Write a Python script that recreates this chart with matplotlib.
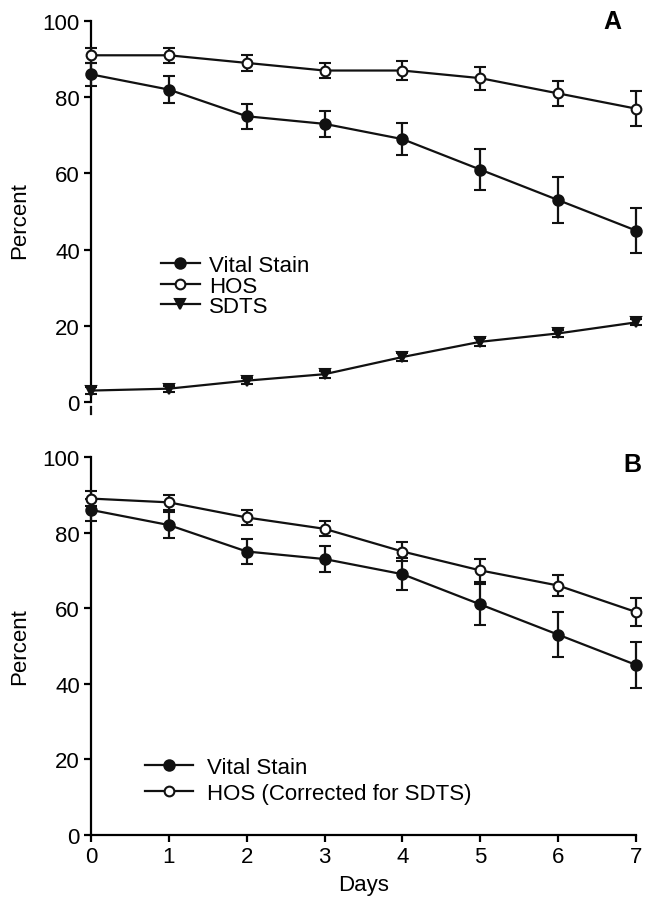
import matplotlib
matplotlib.use("Agg")
import matplotlib.pyplot as plt
from matplotlib.lines import Line2D

plt.rcParams['font.family'] = ['Liberation Sans', 'DejaVu Sans']

days = [0, 1, 2, 3, 4, 5, 6, 7]

# Panel A
vital = [86, 82, 75, 73, 69, 61, 53, 45]
vital_err = [3, 3.5, 3.3, 3.4, 4.3, 5.4, 6, 6]
hos = [91, 91, 89, 87, 87, 85, 81, 77]
hos_err = [2, 2, 2, 2, 2.5, 3, 3.3, 4.5]
sdts = [3, 3.5, 5.6, 7.3, 11.8, 15.8, 18, 20.9]
sdts_err = [1, 0.8, 0.8, 0.9, 1, 1, 1, 0.8]

# Panel B
hos_corr = [89, 88, 84, 81, 75, 70, 66, 59]
hos_corr_err = [2, 2, 2, 2, 2.5, 3, 2.9, 3.6]

y_ticks = [0, 20, 40, 60, 80, 100]
x_ticks = [0, 1, 2, 3, 4, 5, 6, 7]

FS = 16
K = '#111111'

fig = plt.figure(figsize=(6.46, 9.04), dpi=100)

W, H = 646.0, 904.0
x0_px, x7_px = 91.0, 636.0

def make_ax(y100, y0, ylo):
    pxu = (y0 - y100) / 100.0
    ybot = y0 - ylo * pxu
    left = x0_px / W
    width = (x7_px - x0_px) / W
    bottom = 1 - ybot / H
    height = (ybot - y100) / H
    return fig.add_axes([left, bottom, width, height])

axA = make_ax(22.0, 403.0, -4.0)
axB = make_ax(458.0, 836.0, 0.0)

def series(ax, y, e, marker, face, ms, label):
    ax.errorbar(days, y, yerr=e, fmt='-', color=K, lw=1.6, marker=marker,
                mfc=face, mec=K, mew=1.5, ms=ms, capsize=4.5, capthick=1.6,
                elinewidth=1.6, clip_on=False, label=label, zorder=3)

series(axA, vital, vital_err, 'o', K, 7.5, 'Vital Stain')
series(axA, hos, hos_err, 'o', 'white', 7, 'HOS')
series(axA, sdts, sdts_err, 'v', K, 7, 'SDTS')

series(axB, vital, vital_err, 'o', K, 7.5, 'Vital Stain')
series(axB, hos_corr, hos_corr_err, 'o', 'white', 7, 'HOS (Corrected for SDTS)')

for ax in (axA, axB):
    ax.set_xlim(0, 7)
    ax.set_yticks(y_ticks)
    ax.set_xticks(x_ticks)
    ax.spines['top'].set_visible(False)
    ax.spines['right'].set_visible(False)
    ax.spines['left'].set_linewidth(1.6)
    ax.spines['bottom'].set_linewidth(1.6)
    ax.tick_params(axis='both', direction='out', length=5, width=1.6,
                   labelsize=FS, pad=3)
    ax.set_ylabel('Percent', fontsize=FS, labelpad=9)

axA.set_ylim(-4, 100)
axA.spines['bottom'].set_visible(False)
axA.spines['left'].set_bounds(0, 100)
axA.tick_params(axis='x', which='both', bottom=False, labelbottom=False)
axA.add_line(Line2D([0, 0], [-1.2, -3.2], color=K, lw=1.6, clip_on=False))

axB.set_ylim(0, 100)
axB.set_xlabel('Days', fontsize=FS, labelpad=5)

fig.text(621 / W, 1 - 10 / H, 'A', fontsize=18, fontweight='bold',
         ha='right', va='top')
fig.text(641 / W, 1 - 453 / H, 'B', fontsize=18, fontweight='bold',
         ha='right', va='top')

h, l = axA.get_legend_handles_labels()
h = [hh[0] for hh in h]
axA.legend(h, l, loc='upper left', bbox_to_anchor=(161 / W, 1 - 256 / H),
           bbox_transform=fig.transFigure, frameon=False, fontsize=FS,
           borderpad=0, borderaxespad=0, handlelength=1.75, handletextpad=0.4,
           labelspacing=-0.02)

h, l = axB.get_legend_handles_labels()
h = [hh[0] for hh in h]
axB.legend(h, l, loc='upper left', bbox_to_anchor=(145 / W, 1 - 758 / H),
           bbox_transform=fig.transFigure, frameon=False, fontsize=FS,
           borderpad=0, borderaxespad=0, handlelength=2.15, handletextpad=0.65,
           labelspacing=0.22)

fig.savefig('out.png', dpi=100)
